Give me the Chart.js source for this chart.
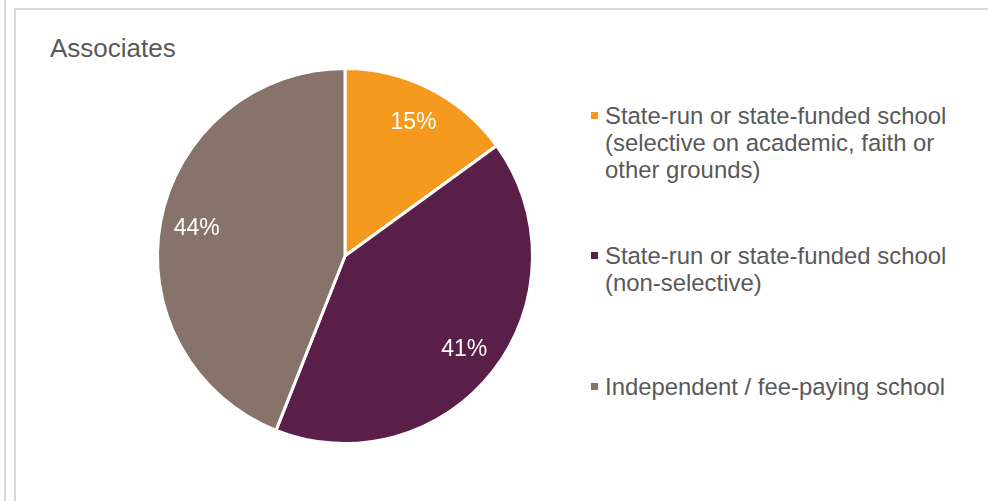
<!DOCTYPE html>
<html lang="en">
    <head>
        <meta charset="UTF-8" />
        <title>Associates</title>
        <script src="https://cdn.jsdelivr.net/npm/chart.js"></script>
        <style>
            body {
                margin: 0;
                width: 988px;
                height: 501px;
                overflow: hidden;
                background: #fff;
                font-family: "Liberation Sans", Arial, sans-serif;
                color: #595959;
                position: relative;
            }
            .edge {
                position: absolute;
                left: 4px;
                top: 0;
                width: 2px;
                height: 501px;
                background: #d9d9d9;
            }
            .panel {
                position: absolute;
                left: 14px;
                top: 8px;
                right: 0;
                bottom: 0;
                border-left: 2px solid #d9d9d9;
                border-top: 2px solid #d9d9d9;
            }
            #chart {
                position: absolute;
                left: 0;
                top: 0;
            }
            .title {
                position: absolute;
                left: 50px;
                top: 33px;
                font-size: 26px;
                line-height: 30px;
                white-space: nowrap;
            }
            .legend-item {
                position: absolute;
                left: 605px;
                font-size: 23.9px;
                line-height: 27px;
                white-space: nowrap;
            }
            .legend-item .box {
                position: absolute;
                left: -14px;
                top: 10px;
                width: 7px;
                height: 7px;
            }
        </style>
    </head>
    <body>
        <div class="edge"></div>
        <div class="panel"></div>
        <div class="title" id="title"></div>
        <div id="legend"></div>
        <canvas id="chart" width="988" height="501"></canvas>

        <script>
            const chartTitle = "Associates";
            const categories = [
                ["State-run or state-funded school", "(selective on academic, faith or", "other grounds)"],
                ["State-run or state-funded school", "(non-selective)"],
                ["Independent / fee-paying school"],
            ];
            const shares = [15, 41, 44];
            const colors = ["#f6991f", "#5a1f48", "#877369"];

            document.getElementById("title").textContent = chartTitle;

            // legend on the right, one block per category
            const legendTops = [102, 242, 373];
            const legendDiv = document.getElementById("legend");
            categories.forEach((lines, i) => {
                const item = document.createElement("div");
                item.className = "legend-item";
                item.style.top = legendTops[i] + "px";
                const box = document.createElement("span");
                box.className = "box";
                box.style.background = colors[i];
                item.appendChild(box);
                lines.forEach((line, j) => {
                    if (j > 0) item.appendChild(document.createElement("br"));
                    item.appendChild(document.createTextNode(line));
                });
                legendDiv.appendChild(item);
            });

            // percentage labels inside the slices
            const sliceLabels = {
                id: "sliceLabels",
                afterDatasetsDraw(chart) {
                    const ctx = chart.ctx;
                    const meta = chart.getDatasetMeta(0);
                    ctx.save();
                    ctx.fillStyle = "#ffffff";
                    ctx.font = '23px "Liberation Sans", Arial, sans-serif';
                    ctx.textAlign = "center";
                    ctx.textBaseline = "middle";
                    meta.data.forEach((arc, i) => {
                        const p = arc.getProps(["x", "y", "startAngle", "endAngle", "outerRadius"], true);
                        const mid = (p.startAngle + p.endAngle) / 2;
                        const r = p.outerRadius * 0.805;
                        ctx.fillText(shares[i] + "%", p.x + Math.cos(mid) * r, p.y + Math.sin(mid) * r + 1);
                    });
                    ctx.restore();
                },
            };

            new Chart(document.getElementById("chart"), {
                type: "pie",
                data: {
                    labels: categories.map((l) => l.join(" ")),
                    datasets: [
                        {
                            data: shares,
                            backgroundColor: colors,
                            borderColor: "#ffffff",
                            borderWidth: 3,
                        },
                    ],
                },
                options: {
                    responsive: false,
                    animation: false,
                    layout: {
                        padding: { left: 156, right: 454, top: 67, bottom: 56 },
                    },
                    plugins: {
                        legend: { display: false },
                        title: { display: false },
                        tooltip: { enabled: false },
                    },
                },
                plugins: [sliceLabels],
            });
        </script>
    </body>
</html>
